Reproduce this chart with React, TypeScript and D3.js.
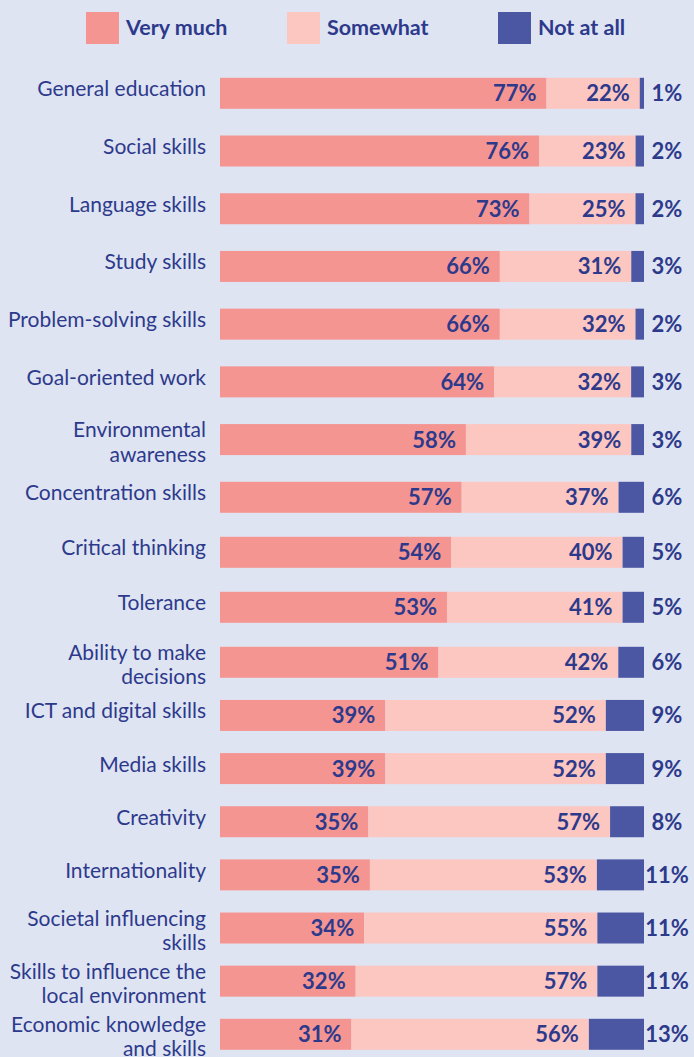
import React from "react";
import * as d3 from "d3";

const categories = [
  "General education",
  "Social skills",
  "Language skills",
  "Study skills",
  "Problem-solving skills",
  "Goal-oriented work",
  "Environmental\nawareness",
  "Concentration skills",
  "Critical thinking",
  "Tolerance",
  "Ability to make\ndecisions",
  "ICT and digital skills",
  "Media skills",
  "Creativity",
  "Internationality",
  "Societal influencing\nskills",
  "Skills to influence the\nlocal environment",
  "Economic knowledge\nand skills",
];
const veryMuch = [77, 76, 73, 66, 66, 64, 58, 57, 54, 53, 51, 39, 39, 35, 35, 34, 32, 31];
const somewhat = [22, 23, 25, 31, 32, 32, 39, 37, 40, 41, 42, 52, 52, 57, 53, 55, 57, 56];
const notAtAll = [1, 2, 2, 3, 2, 3, 3, 6, 5, 5, 6, 9, 9, 8, 11, 11, 11, 13];
const seriesNames = ["Very much", "Somewhat", "Not at all"];
const seriesKeys = ["veryMuch", "somewhat", "notAtAll"];

const W = 694;
const H = 1057;
const BG = "#dfe4f2";
const TEXT = "#2d3a8c";
const COLORS = ["#f59591", "#fcc6c1", "#4c57a3"];
const FONT = "Lato, 'Open Sans', sans-serif";

export default function App() {
  const rows = categories.map((c, i) => ({
    category: c,
    veryMuch: veryMuch[i],
    somewhat: somewhat[i],
    notAtAll: notAtAll[i],
  }));
  const x = d3.scaleLinear().domain([0, 1]).range([220, 644]);
  // row centres: the original layout spaces the rows slightly unevenly
  const yc = d3
    .scaleLinear()
    .domain([0, 7, 10, categories.length - 1])
    .range([93.3, 497.3, 662.3, 1034.3]);
  const bw = 31;
  const stack = d3
    .stack<any>()
    .keys(seriesKeys)
    .offset(d3.stackOffsetExpand)(rows);

  const legendX = [86, 287, 498];

  return (
    <svg
      width={W}
      height={H}
      style={{ position: "absolute", left: 0, top: 0, display: "block" }}
      fontFamily={FONT}
    >
      <rect x={0} y={0} width={W} height={H} fill={BG} />
      {/* legend */}
      {seriesNames.map((n, i) => (
        <g key={n} transform={`translate(${legendX[i]},12)`}>
          <rect width={33} height={32} fill={COLORS[i]} />
          <text x={40} y={23} fill={TEXT} fontSize={21.5} fontWeight={700}>
            {n}
          </text>
        </g>
      ))}
      {/* category labels */}
      {categories.map((c, i) => {
        const lines = c.split("\n");
        const cy = yc(i);
        const lh = 24.5;
        const first = lines.length === 1 ? cy + 3 : cy - 2.5;
        return (
          <text key={c} x={206} textAnchor="end" fill={TEXT} fontSize={21}>
            {lines.map((l, k) => (
              <tspan key={k} x={206} y={first + k * lh}>
                {l}
              </tspan>
            ))}
          </text>
        );
      })}
      {/* bars */}
      {stack.map((s, si) => (
        <g key={s.key} fill={COLORS[si]}>
          {s.map((d, i) => (
            <rect
              key={i}
              x={x(d[0])}
              y={yc(i) - bw / 2}
              width={x(d[1]) - x(d[0])}
              height={bw}
            />
          ))}
        </g>
      ))}
      {/* value labels */}
      {stack.map((s, si) => (
        <g key={"l" + s.key} fill={TEXT} fontSize={22} fontWeight={700}>
          {s.map((d, i) => {
            const cy = yc(i) + 8;
            const v = (d.data as any)[s.key];
            if (si < 2) {
              return (
                <text key={i} x={x(d[1]) - 10} y={cy} textAnchor="end">
                  {v}%
                </text>
              );
            }
            return (
              <text key={i} x={x(d[1]) + 23} y={cy} textAnchor="middle">
                {v}%
              </text>
            );
          })}
        </g>
      ))}
    </svg>
  );
}
